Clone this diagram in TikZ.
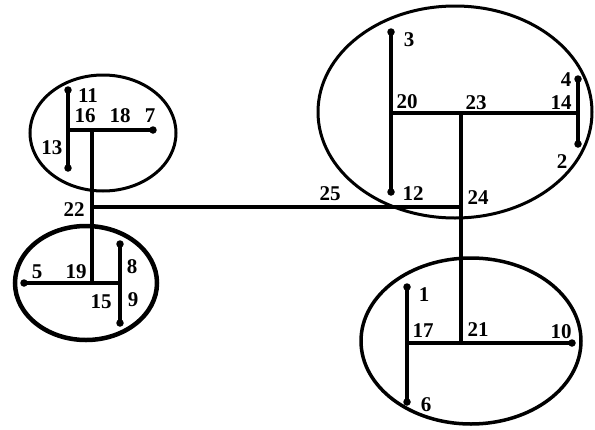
\documentclass[tikz,border=0pt]{standalone}
\usepackage{fontspec}
\setmainfont{Liberation Serif}
\begin{document}
\begin{tikzpicture}[x=1pt,y=-1pt]
\tikzset{
  wire/.style={line width=3.8pt},
  zone/.style={draw, line width=3pt},
  enddot/.style={circle, fill, inner sep=0pt, minimum size=7.5pt},
  lbl/.style={font=\bfseries\fontsize{21}{21}\selectfont, inner sep=0pt}
}
\useasboundingbox (0,0) rectangle (595,429);
% zones
\draw[zone] (103,133) ellipse [x radius=73, y radius=58];
\draw[zone, line width=4.5pt] (86,283) ellipse [x radius=71, y radius=57];
\draw[zone] (455,112) ellipse [x radius=137, y radius=106];
\draw[zone, line width=3.5pt] (471,341) ellipse [x radius=110, y radius=83];
% junction points
\coordinate (n16) at (68,130);
\coordinate (n18) at (92,130);
\coordinate (n22) at (92,207);
\coordinate (n19) at (92,283);
\coordinate (n15) at (120,283);
\coordinate (n24) at (461,207);
\coordinate (n23) at (461,113);
\coordinate (n20) at (391,113);
\coordinate (n14) at (578,113);
\coordinate (n21) at (461,343);
\coordinate (n17) at (407,343);
% end dots
\node[enddot] (n11) at (68,90) {};
\node[enddot] (n13) at (68,168) {};
\node[enddot] (n7) at (153,130) {};
\node[enddot] (n5) at (24,283) {};
\node[enddot] (n8) at (120,244) {};
\node[enddot] (n9) at (120,323) {};
\node[enddot] (n3) at (391,32) {};
\node[enddot] (n12) at (391,192) {};
\node[enddot] (n4) at (578,79) {};
\node[enddot] (n2) at (578,144) {};
\node[enddot] (n1) at (407,287) {};
\node[enddot] (n6) at (407,402) {};
\node[enddot] (n10) at (572,343) {};
% wires
\draw[wire] (n11.center) -- (n13.center);
\draw[wire] (n16) -- (n7.center);
\draw[wire] (n18) -- (n22) -- (n19);
\draw[wire] (n5.center) -- (n15);
\draw[wire] (n8.center) -- (n9.center);
\draw[wire] (n22) -- (n24);
\draw[wire] (n23) -- (n24) -- (n21);
\draw[wire] (n20) -- (n14);
\draw[wire] (n3.center) -- (n12.center);
\draw[wire] (n4.center) -- (n2.center);
\draw[wire] (n17) -- (n10.center);
\draw[wire] (n1.center) -- (n6.center);
% labels
\node[lbl] (l11) at (88,96) {11};
\node[lbl] (l16) at (85,116) {16};
\node[lbl] (l18) at (120,116) {18};
\node[lbl] (l7) at (150,116) {7};
\node[lbl] (l13) at (52,148) {13};
\node[lbl] (l22) at (74,210) {22};
\node[lbl] (l5) at (37,272) {5};
\node[lbl] (l19) at (76,272) {19};
\node[lbl] (l8) at (132,267) {8};
\node[lbl] (l15) at (101,302) {15};
\node[lbl] (l9) at (133,300) {9};
\node[lbl] (l3) at (409,40) {3};
\node[lbl] (l20) at (407,102) {20};
\node[lbl] (l23) at (476,103) {23};
\node[lbl] (l14) at (561,103) {14};
\node[lbl] (l4) at (566,80) {4};
\node[lbl] (l2) at (562,162) {2};
\node[lbl] (l12) at (413,194) {12};
\node[lbl] (l24) at (478,198) {24};
\node[lbl] (l25) at (330,194) {25};
\node[lbl] (l1) at (424,295) {1};
\node[lbl] (l17) at (423,331) {17};
\node[lbl] (l21) at (478,330) {21};
\node[lbl] (l10) at (561,332) {10};
\node[lbl] (l6) at (426,405) {6};
\end{tikzpicture}
\end{document}
